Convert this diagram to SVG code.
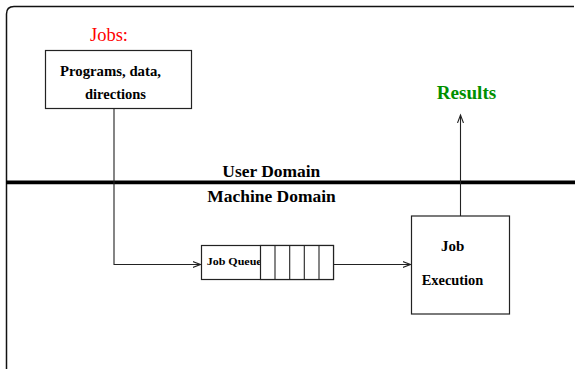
<svg xmlns="http://www.w3.org/2000/svg" width="575" height="371" viewBox="0 0 575 371">
<style>
.box{fill:#fff;stroke:#222;stroke-width:1.2}
.ln{fill:none;stroke:#222;stroke-width:1.1}
.t{font-family:"Liberation Serif",serif;font-weight:bold;fill:#000}
.r{font-family:"Liberation Serif",serif;font-weight:normal;fill:#ff0000}
</style>
<defs>
<marker id="ah" markerWidth="10" markerHeight="8" refX="8" refY="4" orient="auto" markerUnits="userSpaceOnUse">
<path d="M0,1 L8,4 L0,7" fill="none" stroke="#222" stroke-width="1.1"/>
</marker>
</defs>
<rect width="575" height="371" fill="#fff"/>
<g id="frame">
<path d="M6.5,369 L6.5,14 Q6.5,6.5 14,6.5 L574,6.5" fill="none" stroke="#111" stroke-width="1.5"/>
<line x1="6" y1="182.3" x2="575" y2="182.3" stroke="#000" stroke-width="3.8"/>
<text class="t" x="222.3" y="177" font-size="16" textLength="98" lengthAdjust="spacingAndGlyphs">User Domain</text>
<text class="t" x="207.3" y="201.7" font-size="16" textLength="128.4" lengthAdjust="spacingAndGlyphs">Machine Domain</text>
</g>
<g id="connectors">
<polyline class="ln" points="114,109 114,264.5 200.5,264.5" marker-end="url(#ah)"/>
<line class="ln" x1="334" y1="264.5" x2="410.5" y2="264.5" marker-end="url(#ah)"/>
<line class="ln" x1="460.5" y1="216" x2="460.5" y2="115" marker-end="url(#ah)"/>
</g>
<g id="jobs">
<text class="r" x="90" y="40.7" font-size="18.5" textLength="38" lengthAdjust="spacingAndGlyphs">Jobs:</text>
<rect class="box" x="45.5" y="50.5" width="146" height="58"/>
<text class="t" x="60" y="75.7" font-size="14.5" textLength="101" lengthAdjust="spacingAndGlyphs">Programs, data,</text>
<text class="t" x="85" y="99" font-size="14.5" textLength="61" lengthAdjust="spacingAndGlyphs">directions</text>
</g>
<g id="queue">
<rect class="box" x="201.5" y="245.5" width="132" height="34"/>
<text class="t" x="206.7" y="265" font-size="10.5" textLength="55" lengthAdjust="spacingAndGlyphs">Job Queue</text>
<rect class="box" x="260.5" y="245.5" width="73" height="34"/>
<line class="ln" x1="275" y1="245.5" x2="275" y2="279.5"/>
<line class="ln" x1="289.7" y1="245.5" x2="289.7" y2="279.5"/>
<line class="ln" x1="304.3" y1="245.5" x2="304.3" y2="279.5"/>
<line class="ln" x1="319" y1="245.5" x2="319" y2="279.5"/>
</g>
<g id="execution">
<rect class="box" x="411.5" y="216" width="98" height="98"/>
<text class="t" x="441" y="251" font-size="15" textLength="23.3" lengthAdjust="spacingAndGlyphs">Job</text>
<text class="t" x="421.7" y="285" font-size="14.5" textLength="61.6" lengthAdjust="spacingAndGlyphs">Execution</text>
</g>
<g id="results">
<text class="t" x="436.7" y="99.3" font-size="19" style="fill:#009000" textLength="59.6" lengthAdjust="spacingAndGlyphs">Results</text>
</g>
</svg>
